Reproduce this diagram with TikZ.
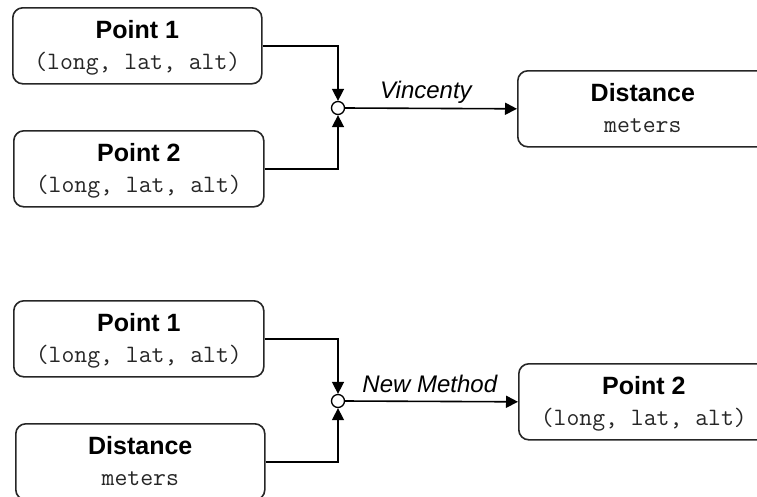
\documentclass[tikz,border=0pt]{standalone}
\usepackage{fontspec}
\setmainfont{Liberation Sans}
\usetikzlibrary{arrows.meta,positioning}
\tikzset{
  box/.style={draw=black!85, line width=1.6pt, rounded corners=10pt, minimum width=249pt, minimum height=76pt, anchor=north west, inner sep=0pt},
  ttl/.style={anchor=base, inner sep=0pt, font=\fontsize{25}{30}\selectfont\bfseries},
  sub/.style={anchor=base, inner sep=0pt, text=black!85, font=\fontsize{25}{28}\selectfont\ttfamily},
  lbl/.style={anchor=base, inner sep=0pt, font=\fontsize{24}{28}\selectfont\itshape},
  junc/.style={circle, draw=black, fill=white, line width=1.3pt, minimum size=13pt, inner sep=0pt},
  conn/.style={draw=black, line width=1.6pt},
  arr/.style={conn, -{Triangle[length=12pt,width=12pt]}},
}
\begin{document}
\begin{tikzpicture}[x=1pt,y=-1pt]
\useasboundingbox (0,0) rectangle (757,496);
\begin{scope}
\clip (0,0) rectangle (757,496);
% ---------- top ----------
\node[box] (a1) at (12,7) {};
\node[ttl] (a1t) at ([yshift=-31pt]a1.north) {Point 1};
\node[sub] (a1s) at ([yshift=-62pt]a1.north) {(long, lat, alt)};
\node[box, minimum width=250pt] (a2) at (13,130) {};
\node[ttl] (a2t) at ([yshift=-31pt]a2.north) {Point 2};
\node[sub] (a2s) at ([yshift=-62pt]a2.north) {(long, lat, alt)};
\node[box, minimum width=250pt] (a3) at (517,70) {};
\node[ttl] (a3t) at ([yshift=-31pt]a3.north) {Distance};
\node[sub] (a3s) at ([yshift=-62pt]a3.north) {meters};
\node[junc] (j1) at (338,108) {};
\draw[arr] (a1.east) -| (j1.north);
\draw[arr] (a2.east) -| (j1.south);
\draw[arr] (j1.east) -- node[lbl, pos=0.47, yshift=10pt] (l1) {Vincenty} (a3.west);
% ---------- bottom ----------
\node[box, minimum width=250pt] (b1) at (13,300) {};
\node[ttl] (b1t) at ([yshift=-31pt]b1.north) {Point 1};
\node[sub] (b1s) at ([yshift=-62pt]b1.north) {(long, lat, alt)};
\node[box] (b2) at (15,423) {};
\node[ttl] (b2t) at ([yshift=-31pt]b2.north) {Distance};
\node[sub] (b2s) at ([yshift=-62pt]b2.north) {meters};
\node[box, minimum width=250pt] (b3) at (518,363) {};
\node[ttl] (b3t) at ([yshift=-31pt]b3.north) {Point 2};
\node[sub] (b3s) at ([yshift=-62pt]b3.north) {(long, lat, alt)};
\node[junc] (j2) at (338,401) {};
\draw[arr] (b1.east) -| (j2.north);
\draw[arr] (b2.east) -| (j2.south);
\draw[arr] (j2.east) -- node[lbl, pos=0.49, yshift=9pt] (l2) {New Method} (b3.west);
\end{scope}
\end{tikzpicture}
\end{document}
